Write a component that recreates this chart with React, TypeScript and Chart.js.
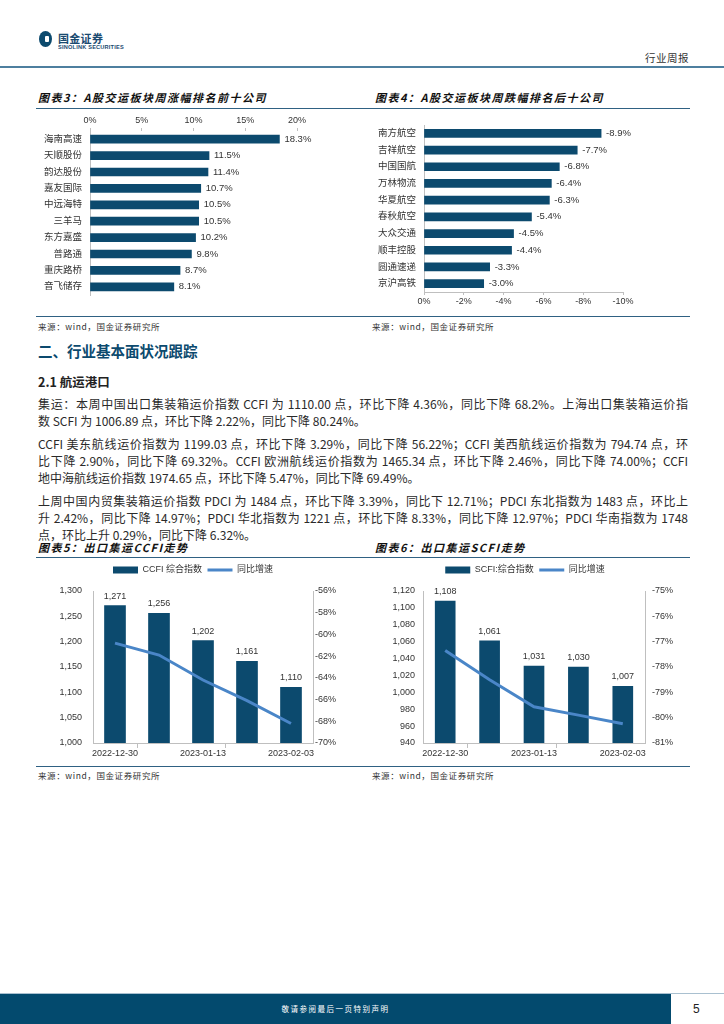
import React, { useEffect, useRef } from 'react';
import { Chart, registerables } from 'chart.js';

Chart.register(...registerables);

// ---------- data ----------
const gainers = ['海南高速', '天顺股份', '韵达股份', '嘉友国际', '中远海特', '三羊马', '东方嘉盛', '普路通', '重庆路桥', '音飞储存'];
const gainValues = [18.3, 11.5, 11.4, 10.7, 10.5, 10.5, 10.2, 9.8, 8.7, 8.1];
const losers = ['南方航空', '吉祥航空', '中国国航', '万林物流', '华夏航空', '春秋航空', '大众交通', '顺丰控股', '圆通速递', '京沪高铁'];
const lossValues = [-8.9, -7.7, -6.8, -6.4, -6.3, -5.4, -4.5, -4.4, -3.3, -3.0];
const weekDates = ['2022-12-30', '2023-01-06', '2023-01-13', '2023-01-20', '2023-02-03'];
const ccfiIndex = [1271, 1256, 1202, 1161, 1110];
const ccfiYoy = [-60.8, -61.9, -64.2, -66.1, -68.2];
const scfiIndex = [1108, 1061, 1031, 1030, 1007];
const scfiYoy = [-77.35, -78.5, -79.57, -79.9, -80.24];

// ---------- styles ----------
const FONT = "'Liberation Sans', 'Noto Sans CJK SC', sans-serif";
const BAR = '#0c4a6e';
const LINE = '#4a86c8';
const AXIS = '#bfbfbf';
const TXT = '#333333';
const RULE = '#2f6183';

const fixWidth = (w: number) => (scale: any) => { scale.width = w; };
const fixHeight = (h: number) => (scale: any) => { scale.height = h; };

function valueLabels(horizontal: boolean, fmt: (v: number) => string, size: number) {
  return {
    id: 'valueLabels',
    afterDatasetsDraw(chart: any) {
      const ctx = chart.ctx;
      ctx.save();
      ctx.font = `${size}px ${FONT}`;
      ctx.fillStyle = TXT;
      ctx.textBaseline = 'middle';
      chart.data.datasets.forEach((ds: any, di: number) => {
        const meta = chart.getDatasetMeta(di);
        if (meta.type !== 'bar' || meta.hidden) return;
        meta.data.forEach((el: any, i: number) => {
          const t = fmt(ds.data[i]);
          if (horizontal) {
            ctx.textAlign = 'left';
            ctx.fillText(t, el.x + 5, el.y);
          } else {
            ctx.textAlign = 'center';
            ctx.fillText(t, el.x, el.y - 9.5);
          }
        });
      });
      ctx.restore();
    },
  };
}

const legendOpts = {
  display: true,
  position: 'top',
  labels: {
    usePointStyle: true,
    pointStyleWidth: 25,
    boxHeight: 7,
    padding: 5.5,
    color: TXT,
    font: { family: FONT, size: 9 },
    generateLabels: (chart: any) => {
      const items = (Chart.defaults.plugins.legend.labels as any).generateLabels(chart);
      return items
        .map((it: any) => {
          const isLine = chart.data.datasets[it.datasetIndex].type === 'line';
          return {
            ...it,
            pointStyle: isLine ? 'line' : 'rect',
            lineWidth: isLine ? 3 : 0,
            strokeStyle: isLine ? LINE : BAR,
            fillStyle: isLine ? LINE : BAR,
          };
        })
        .sort((a: any, b: any) => a.datasetIndex - b.datasetIndex);
    },
  },
};

// thin empty subtitle used only as a gap between legend and plot area
const spacer = (h: number) => ({
  display: true,
  text: ' ',
  weight: 100,
  position: 'top',
  font: { size: 1, lineHeight: 1 },
  padding: { top: h - 1, bottom: 0 },
});

const tickFont = { family: FONT, size: 9 };

function hBarConfig(labels: string[], values: number[], top: boolean, pad: any, yWidth: number, xHeight: number) {
  return {
    type: 'bar',
    data: { labels, datasets: [{ data: values, backgroundColor: BAR, barThickness: 8 }] },
    options: {
      indexAxis: 'y',
      animation: false,
      responsive: true,
      maintainAspectRatio: false,
      layout: { padding: pad },
      plugins: { legend: { display: false }, tooltip: { enabled: false } },
      scales: {
        x: top
          ? {
              position: 'top',
              min: 0,
              max: 20,
              ticks: { stepSize: 5, callback: (v: number) => v + '%', color: TXT, font: tickFont, padding: 2, maxRotation: 0 },
              grid: { drawOnChartArea: false, tickLength: 3, color: AXIS },
              border: { display: false },
              afterFit: fixHeight(xHeight),
            }
          : {
              position: 'bottom',
              min: -10,
              max: 0,
              reverse: true,
              ticks: { stepSize: 2, callback: (v: number) => v + '%', color: TXT, font: tickFont, padding: 1, maxRotation: 0 },
              grid: { drawOnChartArea: false, tickLength: 3, color: AXIS },
              border: { display: true, color: AXIS },
              afterFit: fixHeight(xHeight),
            },
        y: {
          ticks: { color: TXT, font: { family: FONT, size: 9.5 }, padding: 8, autoSkip: false },
          grid: { display: false, drawTicks: false },
          border: { display: true, color: AXIS },
          afterFit: fixWidth(yWidth),
        },
      },
    },
    plugins: [valueLabels(true, (v) => v.toFixed(1) + '%', 9.5)],
  };
}

function comboConfig(
  label: string,
  bars: number[],
  yoy: number[],
  yMin: number,
  yMax: number,
  yStep: number,
  rMin: number,
  rMax: number,
  rStep: number,
  leftW: number,
  rightW: number,
  leftPad: number,
  rightPad: number,
  barW: number
) {
  return {
    type: 'bar',
    data: {
      labels: weekDates,
      datasets: [
        { type: 'bar', label, data: bars, backgroundColor: BAR, borderWidth: 0, barThickness: barW, yAxisID: 'y', order: 2 },
        {
          type: 'line',
          label: '同比增速',
          data: yoy,
          borderColor: LINE,
          backgroundColor: LINE,
          borderWidth: 3,
          pointRadius: 0,
          tension: 0,
          yAxisID: 'y1',
          order: 1,
        },
      ],
    },
    options: {
      animation: false,
      responsive: true,
      maintainAspectRatio: false,
      layout: { padding: 0 },
      plugins: {
        legend: legendOpts,
        subtitle: spacer(6.5),
        tooltip: { enabled: false },
      },
      scales: {
        x: {
          ticks: {
            callback: (_v: any, i: number) => (i % 2 === 0 ? weekDates[i] : ''),
            autoSkip: false,
            maxRotation: 0,
            color: TXT,
            font: tickFont,
            padding: 0,
          },
          grid: {
            drawOnChartArea: false,
            tickLength: 5,
            color: (c: any) => (c.index === 1 || c.index === 3 ? AXIS : 'rgba(0,0,0,0)'),
          },
          border: { display: true, color: AXIS },
          afterFit: fixHeight(23),
        },
        y: {
          position: 'left',
          min: yMin,
          max: yMax,
          ticks: { stepSize: yStep, callback: (v: number) => v.toLocaleString('en-US'), color: TXT, font: tickFont, padding: leftPad },
          grid: { display: false, drawTicks: false },
          border: { display: true, color: AXIS },
          afterFit: fixWidth(leftW),
        },
        y1: {
          position: 'right',
          min: rMin,
          max: rMax,
          ticks: { stepSize: rStep, callback: (v: number) => v + '%', color: TXT, font: tickFont, padding: rightPad },
          grid: { display: false, drawTicks: false },
          border: { display: true, color: AXIS },
          afterFit: fixWidth(rightW),
        },
      },
    },
    plugins: [valueLabels(false, (v) => v.toLocaleString('en-US'), 9)],
  };
}

function ChartBox({ left, top, width, height, make }: any) {
  const ref = useRef<HTMLCanvasElement>(null);
  useEffect(() => {
    const chart = new Chart(ref.current as HTMLCanvasElement, make());
    let alive = true;
    if ((document as any).fonts && (document as any).fonts.ready) {
      (document as any).fonts.ready.then(() => {
        if (alive) chart.update();
      });
    }
    return () => {
      alive = false;
      chart.destroy();
    };
  }, []);
  return (
    <div style={{ position: 'absolute', left, top, width, height }}>
      <canvas ref={ref} style={{ display: 'block' }} />
    </div>
  );
}

function T({ x, y, size, children, style }: any) {
  const lh = Math.round(size * 1.4);
  return (
    <div style={{ position: 'absolute', left: x, top: y - lh / 2, fontSize: size, lineHeight: `${lh}px`, whiteSpace: 'nowrap', ...style }}>
      {children}
    </div>
  );
}

function Rule({ y, x1 = 36, x2 = 690 }: any) {
  return <div style={{ position: 'absolute', left: x1, top: y, width: x2 - x1, height: 1, background: RULE }} />;
}

const titleStyle = { fontWeight: 700, fontStyle: 'italic', letterSpacing: 1.5, color: '#111' };
const sourceStyle = { color: '#333', letterSpacing: 0.6 };

const paraLines: [string, boolean, number][] = [
  ['集运：本周中国出口集装箱运价指数 CCFI 为 1110.00 点，环比下降 4.36%，同比下降 68.2%。上海出口集装箱运价指', true, 403],
  ['数 SCFI 为 1006.89 点，环比下降 2.22%，同比下降 80.24%。', false, 420],
  ['CCFI 美东航线运价指数为 1199.03 点，环比下降 3.29%，同比下降 56.22%；CCFI 美西航线运价指数为 794.74 点，环', true, 443],
  ['比下降 2.90%，同比下降 69.32%。CCFI 欧洲航线运价指数为 1465.34 点，环比下降 2.46%，同比下降 74.00%；CCFI', true, 460],
  ['地中海航线运价指数 1974.65 点，环比下降 5.47%，同比下降 69.49%。', false, 477],
  ['上周中国内贸集装箱运价指数 PDCI 为 1484 点，环比下降 3.39%，同比下 12.71%；PDCI 东北指数为 1483 点，环比上', true, 500],
  ['升 2.42%，同比下降 14.97%；PDCI 华北指数为 1221 点，环比下降 8.33%，同比下降 12.97%；PDCI 华南指数为 1748', true, 517],
  ['点，环比上升 0.29%，同比下降 6.32%。', false, 534],
];

export default function App() {
  return (
    <div
      style={{
        position: 'fixed',
        left: 0,
        top: 0,
        width: 724,
        height: 1024,
        background: '#fff',
        overflow: 'hidden',
        fontFamily: "'Noto Sans CJK SC', sans-serif",
        color: '#222',
      }}
    >
      {/* header */}
      <div style={{ position: 'absolute', left: 39, top: 31, width: 13, height: 16, borderRadius: '50%', background: '#0c4a6e' }} />
      <div style={{ position: 'absolute', left: 45, top: 36, width: 4, height: 6, borderRadius: 1, background: '#fff' }} />
      <T x={58} y={38} size={11} style={{ fontWeight: 700, color: '#1a4a70', letterSpacing: 0.3 }}>
        国金证券
      </T>
      <div
        style={{
          position: 'absolute',
          left: 58,
          top: 45,
          fontSize: 8,
          lineHeight: '8px',
          fontWeight: 700,
          fontFamily: "'Liberation Sans', sans-serif",
          color: '#1a4a70',
          whiteSpace: 'nowrap',
          transform: 'scale(0.7)',
          transformOrigin: '0 0',
          letterSpacing: 0.3,
        }}
      >
        SINOLINK SECURITIES
      </div>
      <T x={645} y={57} size={10.5} style={{ color: '#333', letterSpacing: 0.5 }}>
        行业周报
      </T>
      <div style={{ position: 'absolute', left: 0, top: 66, width: 724, height: 2, background: '#4d7f9f' }} />

      {/* chart 3 & 4 titles */}
      <T x={38} y={97} size={11} style={titleStyle}>
        图表3：A股交运板块周涨幅排名前十公司
      </T>
      <T x={375} y={97} size={11} style={titleStyle}>
        图表4：A股交运板块周跌幅排名后十公司
      </T>
      <Rule y={108} />

      <ChartBox
        left={36}
        top={112}
        width={316}
        height={198}
        make={() => hBarConfig(gainers, gainValues, true, { top: 0, right: 55, bottom: 15, left: 0 }, 54, 19)}
      />
      <ChartBox
        left={360}
        top={100}
        width={330}
        height={212}
        make={() => hBarConfig(losers, lossValues, false, { top: 25, right: 67, bottom: 0, left: 0 }, 64, 20)}
      />

      <Rule y={316} />
      <T x={38} y={326} size={8.5} style={sourceStyle}>
        来源：wind，国金证券研究所
      </T>
      <T x={372} y={326} size={8.5} style={sourceStyle}>
        来源：wind，国金证券研究所
      </T>

      {/* section */}
      <T x={38} y={351} size={14.5} style={{ fontWeight: 700, color: '#0c4a6e' }}>
        二、行业基本面状况跟踪
      </T>
      <T x={38} y={382} size={12.5} style={{ fontWeight: 700, color: '#222' }}>
        2.1 航运港口
      </T>

      {paraLines.map(([text, full, y], i) => (
        <div
          key={i}
          style={{
            position: 'absolute',
            left: 38,
            top: y - 8.5,
            width: 650,
            fontSize: 12,
            lineHeight: '17px',
            whiteSpace: 'nowrap',
            textAlign: full ? 'justify' : 'left',
            textAlignLast: full ? 'justify' : 'left',
            color: '#2a2a2a',
          }}
        >
          {text}
        </div>
      ))}

      {/* chart 5 & 6 */}
      <T x={38} y={547} size={11} style={titleStyle}>
        图表5：出口集运CCFI走势
      </T>
      <T x={375} y={547} size={11} style={titleStyle}>
        图表6：出口集运SCFI走势
      </T>
      <Rule y={557} />

      <ChartBox
        left={36}
        top={560}
        width={314}
        height={206}
        make={() => comboConfig('CCFI 综合指数', ccfiIndex, ccfiYoy, 1000, 1300, 50, -70, -56, 2, 57, 37, 11, 2, 21)}
      />
      <ChartBox
        left={360}
        top={560}
        width={330}
        height={206}
        make={() => comboConfig('SCFI:综合指数', scfiIndex, scfiYoy, 940, 1120, 20, -81, -75, 1, 63, 45, 8, 7, 20)}
      />

      <Rule y={766} />
      <T x={38} y={775} size={8.5} style={sourceStyle}>
        来源：wind，国金证券研究所
      </T>
      <T x={372} y={775} size={8.5} style={sourceStyle}>
        来源：wind，国金证券研究所
      </T>

      {/* footer */}
      <div style={{ position: 'absolute', left: 0, top: 993, width: 724, height: 1, background: '#a9c0d0' }} />
      <div style={{ position: 'absolute', left: 0, top: 994, width: 671, height: 30, background: '#034a6e' }} />
      <div
        style={{
          position: 'absolute',
          left: 0,
          top: 1002,
          width: 671,
          textAlign: 'center',
          fontSize: 7.5,
          lineHeight: '14px',
          letterSpacing: 1.5,
          color: '#fff',
        }}
      >
        敬请参阅最后一页特别声明
      </div>
      <T x={693} y={1009} size={12} style={{ fontFamily: "'Liberation Sans', sans-serif", color: '#222' }}>
        5
      </T>
    </div>
  );
}
